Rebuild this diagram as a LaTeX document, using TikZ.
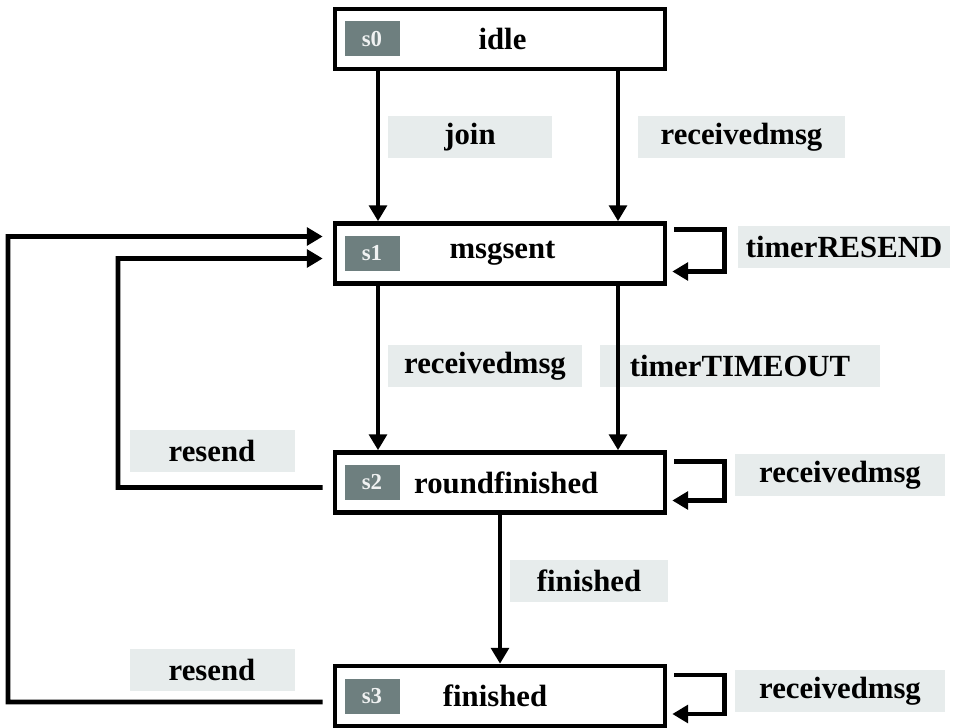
\documentclass[tikz,border=0pt]{standalone}
\usepackage{fontspec}
\setmainfont{Liberation Serif}
\usetikzlibrary{arrows.meta, positioning, calc}
\usepackage{xcolor}
\definecolor{tagg}{RGB}{110,127,127}
\definecolor{lblg}{RGB}{231,236,236}

\begin{document}
\begin{tikzpicture}[
  state/.style={draw, line width=2.6pt, fill=white, minimum width=6.6cm,
                minimum height=1.2cm, font=\fontsize{17.5}{20}\selectfont\bfseries},
  tag/.style={fill=tagg, text=white!90!tagg, minimum width=1.1cm, minimum height=0.7cm,
              font=\fontsize{13}{15}\selectfont\bfseries},
  lbl/.style={fill=lblg, minimum height=0.84cm, font=\fontsize{17.5}{20}\selectfont\bfseries},
  arr/.style={-{Triangle[length=9pt,width=10pt]}, line width=2.6pt}
]
\useasboundingbox (0,0) rectangle (19.06,-14.56);
% states
\node[state] (s0) at (10,-0.78)  {\hspace*{0.1cm}idle};
\node[state] (s1) at (10,-5.07)  {\hspace*{0.1cm}msgsent};
\node[state] (s2) at (10,-9.65)  {\hspace*{0.25cm}roundfinished};
\node[state] (s3) at (10,-13.92) {\hspace*{-0.2cm}finished};
\node[tag] (t0) at (7.44,-0.78)  {s0};
\node[tag] (t1) at (7.44,-5.07)  {s1};
\node[tag] (t2) at (7.44,-9.65)  {s2};
\node[tag] (t3) at (7.44,-13.92) {s3};
% labels
\node[lbl, minimum width=3.28cm] (ljoin) at (9.4,-2.74)   {join};
\node[lbl, minimum width=4.14cm] (lrcv0) at (14.83,-2.74) {receivedmsg};
\node[lbl, minimum width=3.88cm] (lrcv1) at (9.7,-7.32)   {receivedmsg};
\node[lbl, minimum width=5.6cm]  (ltout) at (14.8,-7.32)  {timerTIMEOUT};
\node[lbl, minimum width=3.16cm] (lfin)  at (11.78,-11.62) {finished};
\node[lbl, minimum width=4.24cm] (lres)  at (16.88,-4.94) {timerRESEND};
\node[lbl, minimum width=4.2cm]  (lrcv2) at (16.8,-9.5)   {receivedmsg};
\node[lbl, minimum width=4.2cm]  (lrcv3) at (16.8,-13.82) {receivedmsg};
\node[lbl, minimum width=3.3cm]  (lrs2)  at (4.24,-9.02)  {resend};
\node[lbl, minimum width=3.3cm]  (lrs3)  at (4.24,-13.4)  {resend};
% transitions
\draw[arr] ([xshift=-2.44cm]s0.south) -- ([xshift=-2.44cm]s1.north);
\draw[arr] ([xshift=2.36cm]s0.south) -- ([xshift=2.36cm]s1.north);
\draw[arr] ([xshift=-2.44cm]s1.south) -- ([xshift=-2.44cm]s2.north);
\draw[arr] ([xshift=2.36cm]s1.south) -- ([xshift=2.36cm]s2.north);
\draw[arr] (s2.south) -- (s3.north);
% self loops
\draw[arr] ([xshift=0.14cm,yshift=0.48cm]s1.east) -- ++(1.0,0) |- ([xshift=0.1cm,yshift=-0.36cm]s1.east);
\draw[arr] ([xshift=0.14cm,yshift=0.42cm]s2.east) -- ++(1.0,0) |- ([xshift=0.1cm,yshift=-0.36cm]s2.east);
\draw[arr] ([xshift=0.14cm,yshift=0.42cm]s3.east) -- ++(1.0,0) |- ([xshift=0.1cm,yshift=-0.36cm]s3.east);
% resend paths
\draw[arr] ([xshift=-0.2cm,yshift=-0.1cm]s2.west) -| (2.36,-5.17) -- ([xshift=-0.2cm,yshift=-0.1cm]s1.west);
\draw[arr] ([xshift=-0.2cm,yshift=-0.12cm]s3.west) -| (0.16,-4.73) -- ([xshift=-0.2cm,yshift=0.34cm]s1.west);
\end{tikzpicture}
\end{document}
